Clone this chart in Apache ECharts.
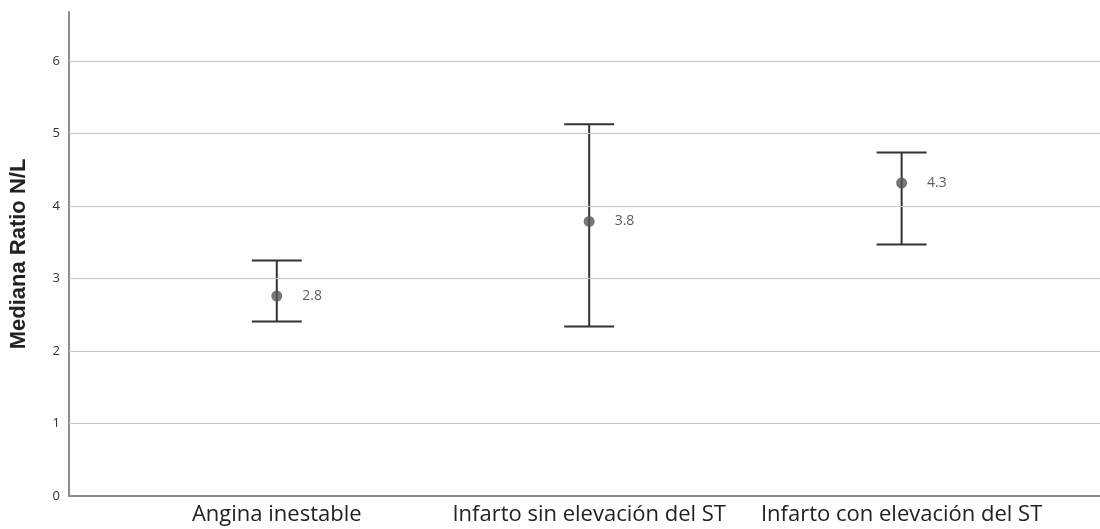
<!DOCTYPE html>
<html>
<head>
<meta charset="utf-8">
<script src="https://cdn.jsdelivr.net/npm/echarts@6/dist/echarts.min.js"></script>
<style>html,body{margin:0;padding:0;background:#fff;}#c{width:1100px;height:529px;}</style>
</head>
<body>
<div id="c"></div>
<script>
var categories = ['Angina inestable', 'Infarto sin elevación del ST', 'Infarto con elevación del ST'];
var medians = [2.76, 3.79, 4.32];
var lowerCI = [2.41, 2.34, 3.47];
var upperCI = [3.25, 5.13, 4.74];
var yTicks = [0, 1, 2, 3, 4, 5, 6];
var catPositions = [0, 1, 2];

var chart = echarts.init(document.getElementById('c'), null, {renderer: 'canvas'});

var errData = catPositions.map(function (p, i) { return [p, lowerCI[i], upperCI[i]]; });
var dotData = catPositions.map(function (p, i) { return [p, medians[i]]; });

chart.setOption({
  animation: false,
  backgroundColor: '#ffffff',
  grid: {left: 66, right: 0, top: 12, bottom: 33, containLabel: false},
  xAxis: {
    type: 'value',
    min: -0.665,
    max: 2.635,
    axisLine: {show: true, onZero: false, lineStyle: {color: '#8c8c8c', width: 2}},
    axisTick: {show: false},
    splitLine: {show: false},
    axisLabel: {
      customValues: catPositions,
      formatter: function (v) { return categories[Math.round(v)]; },
      fontFamily: 'Open Sans',
      fontSize: 22,
      color: '#222',
      margin: 8
    }
  },
  yAxis: {
    type: 'value',
    min: 0,
    max: 6.68,
    name: 'Mediana Ratio N/L',
    nameLocation: 'middle',
    nameGap: 39,
    nameTextStyle: {fontFamily: 'Liberation Sans', fontWeight: 'bold', fontSize: 22, color: '#222'},
    axisLine: {show: true, onZero: false, lineStyle: {color: '#8c8c8c', width: 2}},
    axisTick: {show: false},
    axisLabel: {
      customValues: yTicks,
      fontFamily: 'Open Sans',
      fontSize: 13,
      color: '#333',
      margin: 9
    },
    splitLine: {show: false}
  },
  series: [
    {
      type: 'line',
      data: [],
      silent: true,
      markLine: {
        silent: true,
        symbol: 'none',
        label: {show: false},
        lineStyle: {color: '#c4c4c4', width: 1.2, type: 'solid'},
        data: yTicks.slice(1).map(function (t) { return {yAxis: t}; })
      }
    },
    {
      type: 'custom',
      data: errData,
      renderItem: function (params, api) {
        var x = api.value(0);
        var lo = api.coord([x, api.value(1)]);
        var hi = api.coord([x, api.value(2)]);
        var w = 25;
        var st = {stroke: '#333333', lineWidth: 2};
        return {
          type: 'group',
          children: [
            {type: 'line', shape: {x1: lo[0], y1: lo[1], x2: hi[0], y2: hi[1]}, style: st},
            {type: 'line', shape: {x1: lo[0] - w, y1: lo[1], x2: lo[0] + w, y2: lo[1]}, style: st},
            {type: 'line', shape: {x1: hi[0] - w, y1: hi[1], x2: hi[0] + w, y2: hi[1]}, style: st}
          ]
        };
      },
      z: 3
    },
    {
      type: 'scatter',
      data: dotData,
      symbol: 'circle',
      symbolSize: 11,
      itemStyle: {color: '#555555'},
      label: {
        show: true,
        position: 'right',
        distance: 20,
        formatter: function (p) { return p.value[1].toFixed(1); },
        fontFamily: 'Open Sans',
        fontSize: 14,
        color: '#333'
      },
      z: 4
    }
  ]
});
</script>
</body>
</html>
